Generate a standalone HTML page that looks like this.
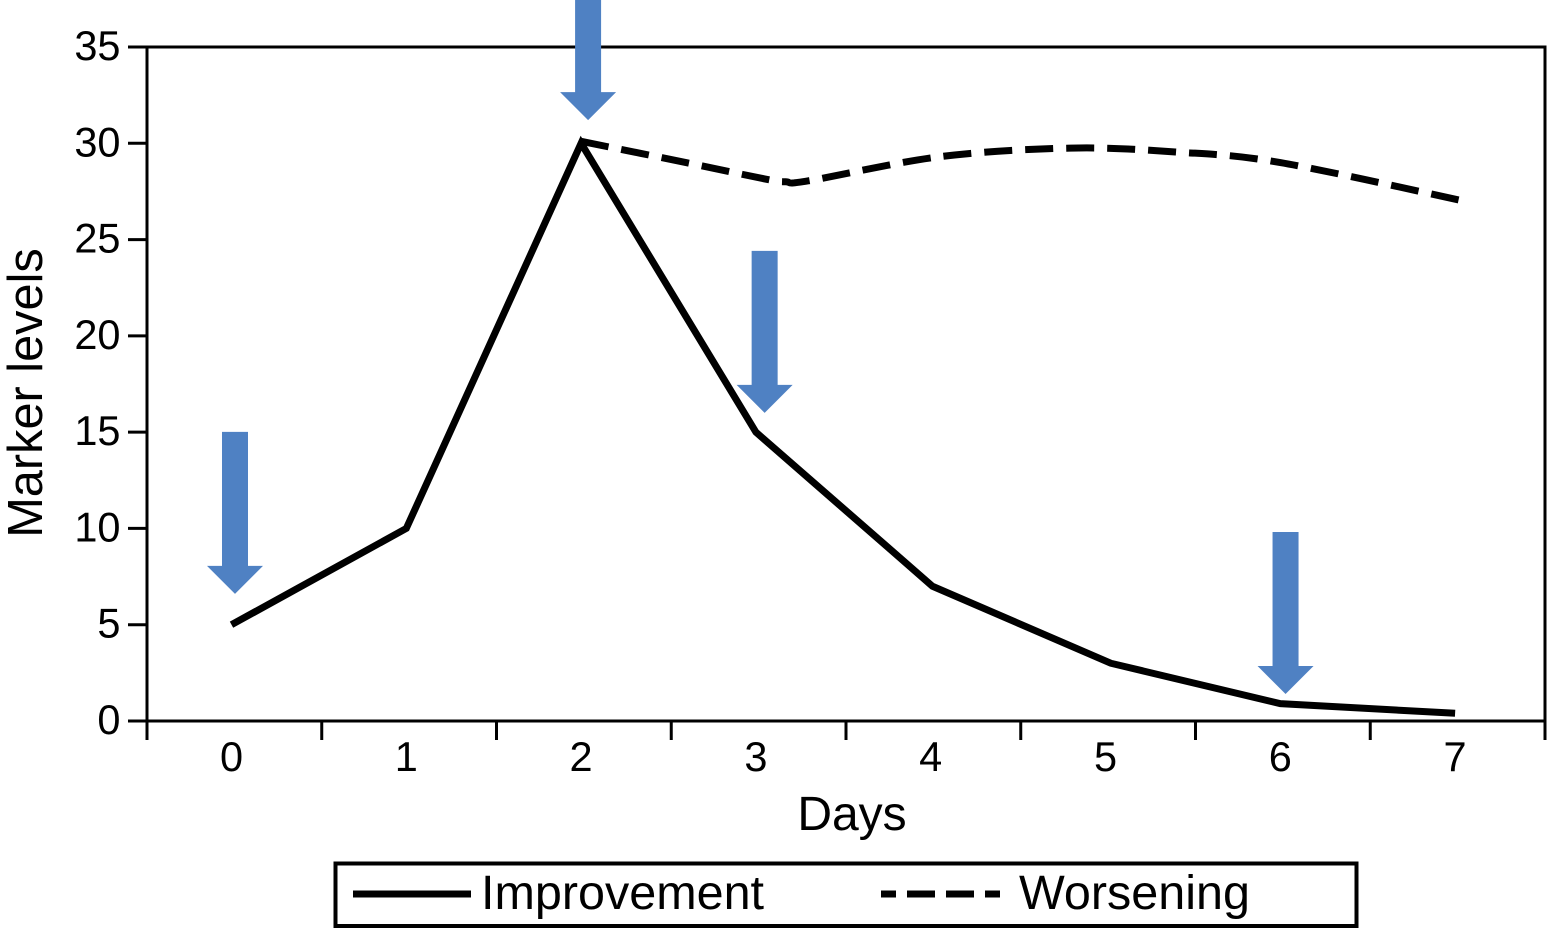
<!DOCTYPE html>
<html lang="en">
<head>
<meta charset="utf-8">
<title>Marker levels over days</title>
<style>
html,body{margin:0;padding:0;background:#fff;width:1547px;height:928px;overflow:hidden}
svg{display:block;position:absolute;left:0;top:0}
text{font-family:"Liberation Sans",Arial,sans-serif;fill:#000}
</style>
</head>
<body>
<svg id="chart" width="1547" height="928" viewBox="0 0 1547 928" xmlns="http://www.w3.org/2000/svg">
  <rect x="0" y="0" width="1547" height="928" fill="#fff"/>
  <g id="grid-layer"></g>
  <g id="series-layer"></g>
  <g id="arrow-layer"></g>
  <text transform="translate(42,393) rotate(-90)" text-anchor="middle" font-size="48.7">Marker levels</text>
  <text x="852" y="830" text-anchor="middle" font-size="48">Days</text>
  <g>
    <rect x="335.5" y="863.5" width="1021" height="62.5" fill="#fff" stroke="#000" stroke-width="4"/>
    <line x1="353" y1="894" x2="471" y2="894" stroke="#000" stroke-width="7"/>
    <text x="481" y="909" font-size="48.5">Improvement</text>
    <line x1="881" y1="894" x2="1000" y2="894" stroke="#000" stroke-width="7" stroke-dasharray="28 11" stroke-dashoffset="13"/>
    <text x="1019" y="909" font-size="48.5">Worsening</text>
  </g>
</svg>
<script>
// Chart data
const dayLabels = ["0","1","2","3","4","5","6","7"];
const yTickValues = [0,5,10,15,20,25,30,35];
const improvementDays = [0,1,2,3,4.01,5.03,6,7];
const improvementValues = [5,10,30,15,7,3,0.9,0.4];
const worseningDays = [2,2.6,3.05,3.17,3.3,4.05,4.8,5.4,6,7.05];
const worseningValues = [30.1,29,28.15,28,28.05,29.3,29.75,29.55,29,27];
const arrowDays = [0.02,2.04,3.05,6.03];
const arrowTipValues = [6.6,31.2,16,1.4];

// Axis functions
const NS = "http://www.w3.org/2000/svg";
const plotLeft = 147, plotRight = 1545, plotTop = 47, plotBottom = 721;
const yMax = 35;
function xScale(d){ return 231.5 + 174.8 * d; }
function yScale(v){ return plotBottom - (plotBottom - plotTop) * v / yMax; }
function make(tag, attrs){
  const el = document.createElementNS(NS, tag);
  for (const k in attrs) el.setAttribute(k, attrs[k]);
  return el;
}
function smoothPath(pts){
  let d = "M" + pts[0][0] + " " + pts[0][1];
  for (let i = 0; i < pts.length - 1; i++){
    const p0 = pts[Math.max(i - 1, 0)], p1 = pts[i], p2 = pts[i + 1], p3 = pts[Math.min(i + 2, pts.length - 1)];
    const c1x = p1[0] + (p2[0] - p0[0]) / 6, c1y = p1[1] + (p2[1] - p0[1]) / 6;
    const c2x = p2[0] - (p3[0] - p1[0]) / 6, c2y = p2[1] - (p3[1] - p1[1]) / 6;
    d += " C" + c1x + " " + c1y + " " + c2x + " " + c2y + " " + p2[0] + " " + p2[1];
  }
  return d;
}

const axes = document.getElementById("grid-layer");
const seriesLayer = document.getElementById("series-layer");
const arrows = document.getElementById("arrow-layer");

// Plot frame
const frame = make("rect", {x:plotLeft, y:plotTop, width:plotRight - plotLeft, height:plotBottom - plotTop, fill:"none", stroke:"#000", "stroke-width":3});


axes.appendChild(frame);

// Y ticks and labels
yTickValues.forEach(function(v){
  const tick = make("line", {x1:plotLeft - 19, x2:plotLeft, y1:yScale(v), y2:yScale(v), stroke:"#000", "stroke-width":3});
  
  
  axes.appendChild(tick);
  const label = make("text", {x:120.5, y:yScale(v) + 13, "text-anchor":"end", "font-size":41.5});
  
  
  label.textContent = String(v);
  axes.appendChild(label);
});

// X ticks (band edges) and labels (band centres)
const bandWidth = (plotRight - plotLeft) / dayLabels.length;
for (let i = 0; i <= dayLabels.length; i++){
  const tx = plotLeft + bandWidth * i;
  const tick = make("line", {x1:tx, x2:tx, y1:plotBottom, y2:740, stroke:"#000", "stroke-width":3});
  
  
  axes.appendChild(tick);
}
dayLabels.forEach(function(lbl, i){
  const label = make("text", {x:xScale(i), y:771, "text-anchor":"middle", "font-size":41.5});
  
  
  label.textContent = lbl;
  axes.appendChild(label);
});

// Improvement series
const improvementPoints = improvementDays.map(function(d, i){ return xScale(d) + "," + yScale(improvementValues[i]); }).join(" ");
const improvementLine = make("polyline", {points:improvementPoints, fill:"none", stroke:"#000", "stroke-width":7, "stroke-linejoin":"miter"});


seriesLayer.appendChild(improvementLine);

// Worsening series
const worseningPts = worseningDays.map(function(d, i){ return [xScale(d), yScale(worseningValues[i])]; });
const worseningLine = make("path", {d:smoothPath(worseningPts), fill:"none", stroke:"#000", "stroke-width":7, "stroke-dasharray":"28 13"});


seriesLayer.appendChild(worseningLine);

// Arrows: anchored at their tips
arrowDays.forEach(function(d, i){
  const tx = xScale(d), ty = yScale(arrowTipValues[i]);
  const pts = [
    [tx - 13, ty - 162], [tx + 13, ty - 162], [tx + 13, ty - 28], [tx + 28, ty - 28],
    [tx, ty], [tx - 28, ty - 28], [tx - 13, ty - 28]
  ].map(function(p){ return p.join(","); }).join(" ");
  const arrow = make("polygon", {points:pts, fill:"#4f81c3"});
  
  
  arrows.appendChild(arrow);
});
</script>
</body>
</html>
